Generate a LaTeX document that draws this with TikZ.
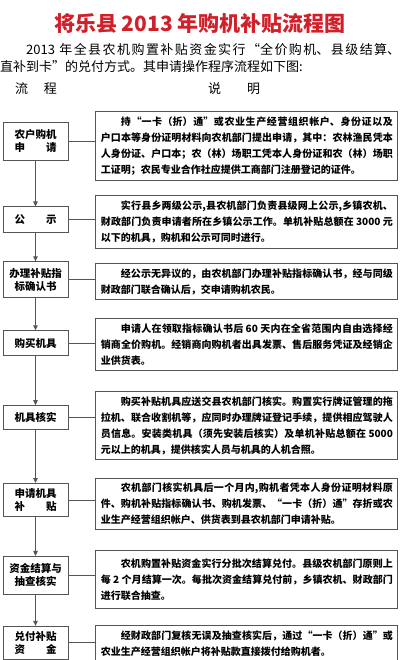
\documentclass[tikz,border=0pt]{standalone}
\usepackage{fontspec}
\setmainfont{Noto Sans CJK SC}
\usepackage{tikz}
\usetikzlibrary{arrows.meta,positioning}
\definecolor{titlered}{HTML}{D0202A}
\definecolor{linegray}{HTML}{555555}
\XeTeXlinebreaklocale "zh"
\XeTeXlinebreakskip=0pt plus 1.5pt

\begin{document}
\begin{tikzpicture}[x=1pt, y=-1pt,
  lbox/.style={draw=linegray, line width=0.9pt, align=center, minimum width=65pt, minimum height=25pt, inner sep=0pt, font=\fontsize{10.5}{13}\selectfont\bfseries},
  rbox/.style={draw=linegray, line width=0.9pt, text width=292pt, align=justify, inner xsep=5pt, inner ysep=5pt, font=\fontsize{10}{16}\selectfont\bfseries},
  arr/.style={-{Triangle[length=5pt,width=4.5pt]}, draw=linegray, line width=0.9pt},
  lnk/.style={draw=linegray, line width=0.9pt}]
\useasboundingbox (0,0) rectangle (400,660);
\node[font=\fontsize{21}{21}\selectfont\bfseries, text=titlered] (title) at (200,24) {将乐县 2013 年购机补贴流程图};
\node[anchor=north west, inner sep=0pt, text width=400pt, align=justify, font=\fontsize{13}{17}\selectfont] (intro) at (0,43.5) {\hspace*{2em}2013 年全县农机购置补贴资金实行“全价购机、县级结算、\linebreak 直补到卡”的兑付方式。其申请操作程序流程如下图:};
\node[font=\fontsize{13}{13}\selectfont] (hflow) at (36,89) {流\hspace{1.2em}程};
\node[font=\fontsize{13}{13}\selectfont] (hnote) at (234,89) {说\hspace{2em}明};

\node[lbox, minimum height=38pt] (l1) at (35.5,141) {农户购机\\申\hspace{2em}请};
\node[lbox, minimum height=26pt, below=46pt of l1] (l2) {公\hspace{2em}示};
\node[lbox, minimum height=36pt, below=28pt of l2] (l3) {办理补贴指\\标确认书};
\node[lbox, below=32pt of l3] (l4) {购买机具};
\node[lbox, minimum height=24pt, below=49pt of l4] (l5) {机具核实};
\node[lbox, minimum height=33pt, below=53pt of l5] (l6) {申请机具\\补\hspace{2em}贴};
\node[lbox, minimum height=38pt, below=39pt of l6] (l7) {资金结算与\\抽查核实};
\node[lbox, minimum height=33pt, below=31pt of l7] (l8) {兑付补贴\\资\hspace{2em}金};

\node[rbox, right=27pt of l1, yshift=-5pt] (r1) {\hspace*{2em}持“一卡（折）通”或农业生产经营组织帐户、身份证以及\linebreak 户口本等身份证明材料向农机部门提出申请，其中：农林渔民凭本\linebreak 人身份证、户口本；农（林）场职工凭本人身份证和农（林）场职\linebreak 工证明；农民专业合作社应提供工商部门注册登记的证件。};
\node[rbox, right=27pt of l2, yshift=-2pt] (r2) {\hspace*{2em}实行县乡两级公示,县农机部门负责县级网上公示,乡镇农机、\linebreak 财政部门负责申请者所在乡镇公示工作。单机补贴总额在 3000 元\linebreak 以下的机具，购机和公示可同时进行。};
\node[rbox, right=27pt of l3, yshift=-2pt] (r3) {\hspace*{2em}经公示无异议的，由农机部门办理补贴指标确认书，经与同级\linebreak 财政部门联合确认后，交申请购机农民。};
\node[rbox, right=27pt of l4, yshift=-1pt] (r4) {\hspace*{2em}申请人在领取指标确认书后 60 天内在全省范围内自由选择经\linebreak 销商全价购机。经销商向购机者出具发票、售后服务凭证及经销企\linebreak 业供货表。};
\node[rbox, right=27pt of l5, yshift=-8pt] (r5) {\hspace*{2em}购买补贴机具应送交县农机部门核实。购置实行牌证管理的拖\linebreak 拉机、联合收割机等，应同时办理牌证登记手续，提供相应驾驶人\linebreak 员信息。安装类机具（须先安装后核实）及单机补贴总额在 5000\linebreak 元以上的机具，提供核实人员与机具的人机合照。};
\node[rbox, right=27pt of l6, yshift=-4pt] (r6) {\hspace*{2em}农机部门核实机具后一个月内,购机者凭本人身份证明材料原\linebreak 件、购机补贴指标确认书、购机发票、“一卡（折）通”存折或农\linebreak 业生产经营组织帐户、供货表到县农机部门申请补贴。};
\node[rbox, minimum height=58pt, right=27pt of l7, yshift=-4pt] (r7) {\hspace*{2em}农机购置补贴资金实行分批次结算兑付。县级农机部门原则上\linebreak 每 2 个月结算一次。每批次资金结算兑付前，乡镇农机、财政部门\linebreak 进行联合抽查。};
\node[rbox, right=27pt of l8, yshift=-1pt] (r8) {\hspace*{2em}经财政部门复核无误及抽查核实后，通过“一卡（折）通”或\linebreak 农业生产经营组织帐户将补贴款直接拨付给购机者。};

\draw[arr] (l1)--(l2); \draw[arr] (l2)--(l3); \draw[arr] (l3)--(l4); \draw[arr] (l4)--(l5);
\draw[arr] (l5)--(l6); \draw[arr] (l6)--(l7); \draw[arr] (l7)--(l8);
\foreach \i in {1,...,8}
  \draw[lnk] (l\i.east) -- (l\i.east -| r\i.west);
\end{tikzpicture}
\end{document}
